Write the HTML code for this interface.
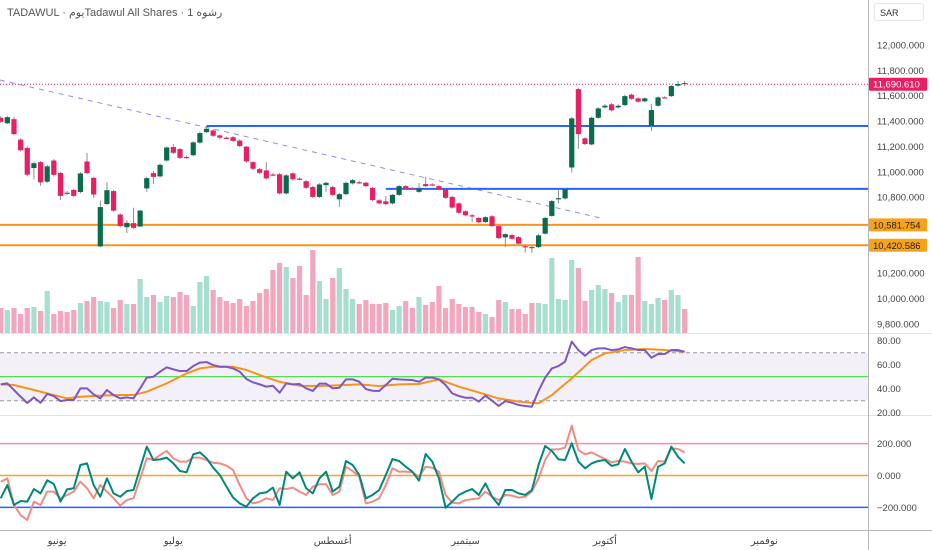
<!DOCTYPE html>
<html><head><meta charset="utf-8"><style>
html,body{margin:0;padding:0;background:#fff;}
#wrap{position:relative;width:932px;height:550px;overflow:hidden;font-family:"Liberation Sans","DejaVu Sans",sans-serif;}
#hdr{position:absolute;left:7px;top:6px;font-size:11px;color:#555;white-space:nowrap;direction:ltr;}
#hdr span{unicode-bidi:isolate;}
#sar{position:absolute;left:874px;top:3px;width:50px;height:18px;border:1px solid #e6e6e6;border-radius:3px;font-size:9px;color:#333;line-height:18px;padding-left:5px;box-sizing:border-box;}
svg text{font-family:"Liberation Sans","DejaVu Sans",sans-serif;}
</style></head><body>
<div id="wrap">
<svg id="chart" width="932" height="550"></svg>
<div id="hdr"><span>TADAWUL · </span><span>يوم</span><span>Tadawul All Shares · 1 </span><span>رشوه</span></div>
<div id="sar">SAR</div>
</div>
<script>
const opens=[11426,11383,11415,11254,11188,11030,11076,10922,11089,10991,10835,10857,10841,11081,10952,10412,10746,10848,10663,10563,10595,10569,10869,10990,10964,11089,11195,11179,11117,11131,11230,11313,11326,11287,11269,11273,11246,11198,11076,11021,11011,10979,10981,10830,10988,10946,10926,10880,10802,10895,10880,10783,10824,10909,10918,10914,10873,10775,10767,10751,10818,10887,10869,10842,10903,10900,10887,10863,10802,10751,10689,10657,10636,10604,10649,10572,10483,10501,10485,10413,10407,10406,10512,10652,10790,10790,11034,11652,11264,11216,11426,11508,11532,11508,11526,11608,11579,11556,11363,11521,11587,11597,11679,11700];
const closes=[11394,11431,11297,11170,10977,11068,10917,11043,10976,10810,10829,10810,10987,10990,10821,10722,10855,10694,10572,10597,10558,10694,10950,10960,11055,11192,11150,11110,11115,11232,11305,11339,11284,11269,11267,11244,11204,11082,11024,10992,10948,10977,10830,10972,10941,10944,10874,10802,10900,10913,10818,10824,10913,10934,10916,10887,10777,10751,10745,10818,10887,10866,10867,10869,10887,10898,10861,10795,10718,10677,10657,10655,10602,10642,10572,10477,10508,10472,10433,10410,10405,10499,10636,10769,10792,10863,11421,11297,11219,11426,11500,11521,11485,11521,11597,11576,11553,11579,11487,11587,11585,11676,11692,11690.61];
const highs=[11438,11439,11433,11265,11200,11080,11085,11055,11100,11000,10850,10865,10998,11150,10960,10772,10918,10858,10672,10618,10716,10700,10960,11006,11065,11200,11218,11188,11130,11242,11316,11363,11336,11295,11278,11283,11255,11205,11085,11030,11076,10990,10990,10982,10996,10955,10935,10888,10910,10922,10888,10832,10922,10945,10930,10922,10880,10783,10809,10826,10895,10895,10880,10911,10960,10910,10895,10870,10810,10760,10697,10668,10645,10650,10658,10580,10516,10510,10493,10425,10418,10510,10645,10778,10855,10872,11432,11662,11273,11436,11510,11532,11542,11532,11607,11618,11588,11588,11533,11596,11596,11686,11717,11717];
const lows=[11384,11375,11289,11160,10965,10940,10890,10910,10963,10778,10815,10800,10830,10980,10796,10405,10738,10685,10562,10516,10550,10562,10842,10903,10955,11080,11140,11100,11100,11122,11222,11305,11275,11255,11260,11236,11195,11070,11012,10982,10938,10965,10820,10820,10930,10935,10865,10792,10792,10842,10808,10724,10815,10900,10905,10878,10768,10742,10736,10742,10810,10858,10858,10835,10880,10890,10853,10786,10710,10668,10648,10604,10594,10596,10564,10468,10406,10464,10425,10364,10360,10398,10505,10645,10753,10782,10995,11181,11210,11208,11418,11500,11476,11500,11518,11568,11545,11548,11321,11512,11578,11590,11672,11675];
const volumes=[25,23,25,19,25,26,22,42,19,22,21,23,30,32,36,32,31,25,33,29,29,54,36,38,31,37,36,41,38,27,51,57,43,36,32,30,34,27,32,40,44,63,70,66,55,67,38,83,52,34,55,65,44,34,29,33,29,29,30,23,27,32,25,36,28,31,47,25,34,29,26,26,21,19,16,33,31,24,24,19,30,30,29,75,34,33,73,65,32,43,48,44,40,31,38,38,76,32,29,35,33,43,38,24];
const rsi=[43.6,44.4,38.9,33.3,28.1,32.8,28.3,35.6,33.9,29.7,30.6,30.6,40.3,40.3,35.3,31.9,38.9,34.7,31.9,32.8,31.9,40.3,49.2,50,54.2,57.8,56.1,54.7,54.7,58.9,61.7,62.2,59.7,58.3,58.3,56.9,54.2,48.1,45.3,43.6,41.7,42.5,36.7,44.4,43.6,43.9,40.3,38.1,44.2,44.2,40.3,40.8,47.8,47.8,45.8,39.7,38.3,38.1,43.1,48.3,47.8,47.5,47.2,45.8,49.2,49.2,47.8,43.1,36.1,33.9,32.5,32.5,29.2,34.2,30,25.6,29.7,28.3,26.4,25.6,25,38.1,49.2,56.9,58.9,62.5,79.2,72.2,67.5,72.2,73.6,73.6,72.2,72.8,74.7,73.6,72.2,72.2,65.8,68.9,68.9,72.2,72.2,70.8];
const rsiMaIdx=[0,2,5,7,10,12,15,18,20,22,25,28,30,32,35,37,40,42,45,48,52,54,57,60,63,66,69,72,75,78,81,83,86,89,91,94,97,100,103];
const rsiMaVal=[43.6,43.1,38.9,36.1,31.9,33.3,34.2,34.7,34.7,37.5,44.4,52.8,56.9,58.3,58.3,55.6,49.4,45.8,42.5,42.2,43.1,43.6,42.2,43.6,43.9,47.8,41.7,36.9,31.9,29.2,27.8,34.7,48.6,63.9,69.4,72.2,73.1,72.2,70.8];
const oscFast=[-143,-60,-185,-160,-164,-85,-112,-30,-53,-164,-87,-80,66,76,-60,-133,-18,-112,-133,-97,-91,45,181,97,101,112,76,28,20,133,145,108,49,3,-70,-139,-175,-195,-143,-112,-106,-76,-185,24,-18,20,-80,-112,-18,24,-101,-70,91,66,3,-143,-122,-91,3,103,91,55,24,-32,135,87,-18,-202,-164,-122,-101,-85,-122,-49,-133,-185,-91,-91,-112,-122,-91,66,185,154,101,97,202,87,45,76,91,97,60,70,166,87,20,55,-147,55,76,181,118,76];
const oscSlow=[-39,-18,-185,-248,-279,-164,-185,-101,-101,-143,-122,-101,-39,-80,-143,-60,-101,-143,-189,-154,-143,-18,108,97,129,154,108,87,87,112,112,97,80,76,62,34,-60,-143,-175,-164,-143,-154,-80,-85,-76,-101,-122,-70,-55,-55,-122,-101,55,28,-7,-175,-164,-143,-60,45,24,24,20,-7,55,49,24,-122,-170,-175,-154,-149,-143,-101,-133,-154,-122,-126,-139,-133,-101,-18,97,164,164,175,312,160,133,145,124,103,83,91,87,76,72,76,28,91,87,170,166,145];
const priceTicks=[12000,11800,11600,11400,11200,11000,10800,10200,10000,9800];
const rsiTicks=[80,60,40,20];
const oscTicks=[200,0,-200];
const monthLabels=["يونيو","يوليو","أغسطس","سبتمبر","أكتوبر","نوفمبر"];
const monthIdx=[8.5,26,50,70,91,115];
const levelsBlue=[11361,10865];
const levelsBlueStart=[31,58];
const levelsOrange=[10581.754,10420.586];
const trendIdx=[-0.1,90.3];
const trendPrice=[11724,10636];
const lastPrice=11690.61;

const NS="http://www.w3.org/2000/svg";
const svg=document.getElementById('chart');
const PW=868;
const xOf=i=>0.7+6.64*i;
const yP=p=>45+(12000-p)*0.1268;
const yV=v=>333-v;
const yR=r=>376.7-(r-50)*1.2;
const yO=v=>475.5-v*0.1595;
function mk(tag,attrs,parent){const e=document.createElementNS(NS,tag);for(const k in attrs)e.setAttribute(k,attrs[k]);(parent||svg).appendChild(e);return e;}
const fmt=(v,d)=>v.toLocaleString('en-US',{minimumFractionDigits:d,maximumFractionDigits:d});

// clip paths
const defs=mk('defs',{});
const cp=mk('clipPath',{id:'cpMain'},defs);mk('rect',{x:0,y:30,width:PW,height:303},cp);

// separators & axis line
let e;
e=mk('line',{x1:0,x2:932,y1:333.5,y2:333.5,stroke:'#e0e3eb'});


e=mk('line',{x1:0,x2:932,y1:415.5,y2:415.5,stroke:'#e0e3eb'});


e=mk('line',{x1:0,x2:932,y1:530.5,y2:530.5,stroke:'#b8b8b8'});


e=mk('line',{x1:868.5,x2:868.5,y1:0,y2:550,stroke:'#b8b8b8'});



// volume
const gVol=mk('g',{});


volumes.forEach((v,i)=>{const up=closes[i]>=opens[i];
 const r=mk('rect',{x:xOf(i)-2.6,y:yV(v),width:5.2,height:v,fill:up?'#a6dfcf':'#f3a7bf'},gVol);
 
 });

// lines in main pane
const gMain=mk('g',{'clip-path':'url(#cpMain)'});
e=mk('line',{x1:0,x2:PW,y1:yP(lastPrice),y2:yP(lastPrice),stroke:'#e91e63','stroke-dasharray':'1 2','stroke-width':1},gMain);


e=mk('line',{x1:xOf(trendIdx[0]),x2:xOf(trendIdx[1]),y1:yP(trendPrice[0]),y2:yP(trendPrice[1]),stroke:'#8c8ff0','stroke-dasharray':'5 5','stroke-width':1},gMain);


levelsBlue.forEach((p,k)=>{const l=mk('line',{x1:xOf(levelsBlueStart[k]),x2:PW,y1:yP(p),y2:yP(p),stroke:'#2962ff','stroke-width':2},gMain);
 
 });
levelsOrange.forEach(p=>{const l=mk('line',{x1:0,x2:PW,y1:yP(p),y2:yP(p),stroke:'#f7941d','stroke-width':2},gMain);
 
 });

// candles
const gC=mk('g',{},gMain);


opens.forEach((o,i)=>{const c=closes[i],up=c>=o,x=xOf(i);
 const col=up?'#0b6b4d':'#e91e63';
 const w=mk('line',{x1:x,x2:x,y1:yP(highs[i]),y2:yP(lows[i]),stroke:'#8f8f8f','stroke-width':1},gC);
 
 
 const t=Math.min(yP(o),yP(c)),h=Math.max(1.2,Math.abs(yP(o)-yP(c)));
 const b=mk('rect',{x:x-2.6,y:t,width:5.2,height:h,fill:col},gC);
 
 });

// RSI pane
e=mk('rect',{x:0,y:yR(70),width:PW,height:yR(30)-yR(70),fill:'#7e57c2','fill-opacity':0.09});


[70,30].forEach(v=>{const l=mk('line',{x1:0,x2:PW,y1:yR(v),y2:yR(v),stroke:'#999','stroke-dasharray':'4 3'});
 
 });
e=mk('line',{x1:0,x2:PW,y1:yR(50),y2:yR(50),stroke:'#3ddc3d','stroke-width':1.2});


e=mk('polyline',{points:rsiMaIdx.map((k,j)=>xOf(k)+','+yR(rsiMaVal[j])).join(' '),fill:'none',stroke:'#f7931a','stroke-width':2,'stroke-linejoin':'round'});


e=mk('polyline',{points:rsi.map((v,i)=>xOf(i)+','+yR(v)).join(' '),fill:'none',stroke:'#7e57c2','stroke-width':2,'stroke-linejoin':'round'});



// oscillator pane
[[200,'#f48fb1'],[0,'#f5a623'],[-200,'#2962ff']].forEach(a=>{const l=mk('line',{x1:0,x2:PW,y1:yO(a[0]),y2:yO(a[0]),stroke:a[1],'stroke-width':1.5});
 
 });
e=mk('polyline',{points:oscSlow.map((v,i)=>xOf(i)+','+yO(v)).join(' '),fill:'none',stroke:'#f28b82','stroke-width':2,'stroke-linejoin':'round'});


e=mk('polyline',{points:oscFast.map((v,i)=>xOf(i)+','+yO(v)).join(' '),fill:'none',stroke:'#00897b','stroke-width':2,'stroke-linejoin':'round'});



// axis labels
const ts={fill:'#444','font-size':9.5};
priceTicks.forEach(p=>{const t=mk('text',Object.assign({x:877,y:yP(p)+3.5},ts));t.textContent=fmt(p,3);
 
 });
rsiTicks.forEach(v=>{const t=mk('text',Object.assign({x:877,y:yR(v)+3.5},ts));t.textContent=fmt(v,2);
 
 });
oscTicks.forEach(v=>{const t=mk('text',Object.assign({x:877,y:yO(v)+3.5},ts));t.textContent=(v<0?'−':'')+fmt(Math.abs(v),3);
 
 });
monthLabels.forEach((m,k)=>{const t=mk('text',{x:xOf(monthIdx[k]),y:544,'text-anchor':'middle',fill:'#444','font-size':10});t.textContent=m;
 
 });

// price badges
function badge(p,bg,fg,name){const y=yP(p);
 const r=mk('rect',{x:869,y:y-6.5,width:58,height:13,fill:bg,rx:1});
 
 
 const t=mk('text',{x:873,y:y+3.5,fill:fg,'font-size':9.5});t.textContent=fmt(p,3);
 
 }
badge(lastPrice,'#e91e63','#fff','last-price-badge');
badge(levelsOrange[0],'#f7a21b','#222','support-badge-upper');
badge(levelsOrange[1],'#f7a21b','#222','support-badge-lower');
</script>
</body></html>
